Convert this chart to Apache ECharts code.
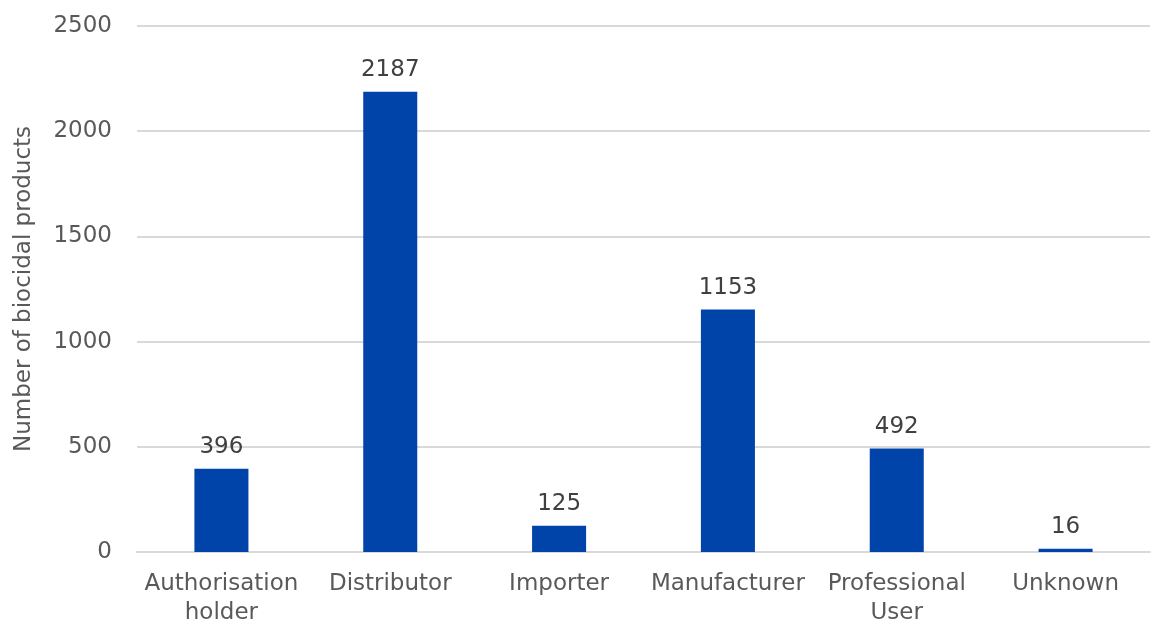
<!DOCTYPE html>
<html>
<head>
<meta charset="utf-8">
<script src="https://cdn.jsdelivr.net/npm/echarts@6/dist/echarts.min.js"></script>
<style>
  html, body { margin: 0; padding: 0; background: #fff; }
  #chart { width: 1152px; height: 622px; }
</style>
</head>
<body>
<div id="chart"></div>
<script>
const categories = ['Authorisation\nholder', 'Distributor', 'Importer', 'Manufacturer', 'Professional\nUser', 'Unknown'];
const productCounts = [396, 2187, 125, 1153, 492, 16];
const yAxisTitle = 'Number of biocidal products';

const FONT = '"DejaVu Sans", Verdana, sans-serif';

const chart = echarts.init(document.getElementById('chart'));
chart.setOption({
  animation: false,
  grid: { left: 137, right: 2, top: 26, bottom: 70, containLabel: false, outerBoundsMode: 'none' },
  xAxis: {
    type: 'category',
    data: categories,
    axisLine: { show: true, lineStyle: { color: '#d9d9d9', width: 2 } },
    axisTick: { show: false },
    axisLabel: {
      color: '#595959', fontFamily: FONT, fontSize: 23,
      lineHeight: 29, margin: 18, interval: 0
    }
  },
  yAxis: {
    type: 'value',
    min: 0, max: 2500, interval: 500,
    name: yAxisTitle,
    nameLocation: 'middle',
    nameGap: 101,
    nameTextStyle: { color: '#595959', fontFamily: FONT, fontSize: 23 },
    axisLine: { show: false },
    axisTick: { show: false },
    axisLabel: {
      color: '#595959', fontFamily: FONT, fontSize: 23, margin: 25,
      formatter: v => String(v)
    },
    splitLine: { lineStyle: { color: '#d9d9d9', width: 2 } }
  },
  series: [{
    type: 'bar',
    data: productCounts,
    barWidth: '32%',
    itemStyle: { color: '#0044AA' },
    label: {
      show: true, position: 'top', distance: 10,
      color: '#404040', fontFamily: FONT, fontSize: 23
    }
  }]
});
</script>
</body>
</html>
